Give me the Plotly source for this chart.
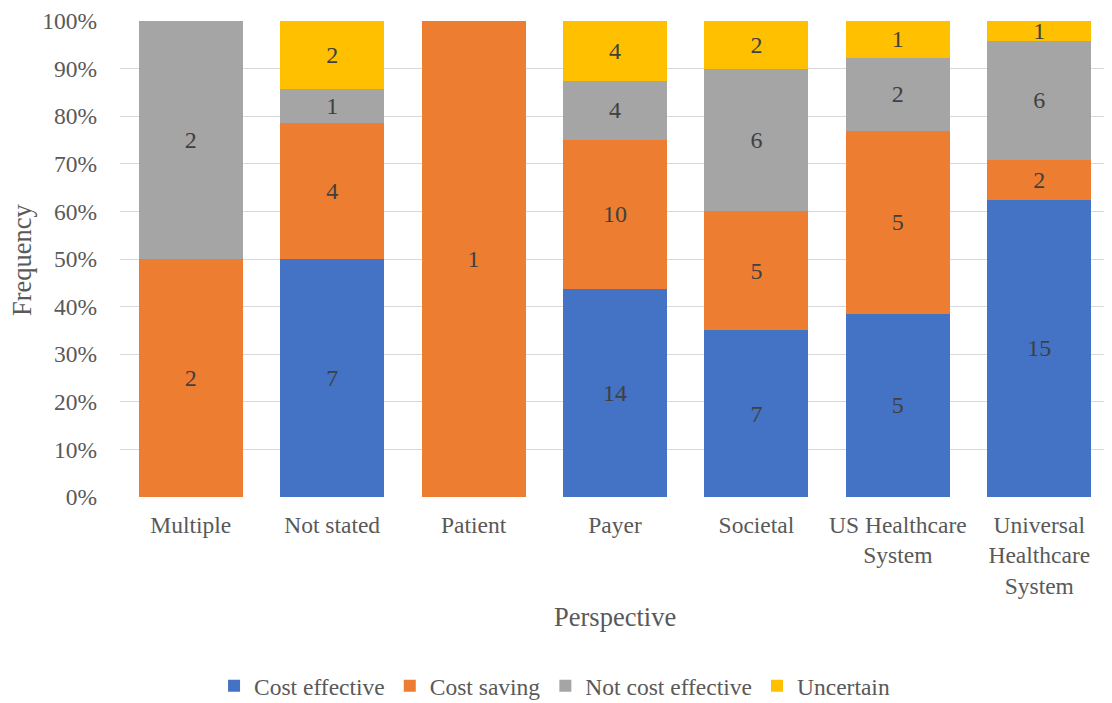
import plotly.graph_objects as go

categories = ["Multiple", "Not stated", "Patient", "Payer", "Societal",
              "US Healthcare<br>System", "Universal<br>Healthcare<br>System"]
cost_effective = [0, 7, 0, 14, 7, 5, 15]
cost_saving = [2, 4, 1, 10, 5, 5, 2]
not_cost_effective = [2, 1, 0, 4, 6, 2, 6]
uncertain = [0, 2, 0, 4, 2, 1, 1]

series = [
    ("Cost effective", cost_effective, "#4472C4"),
    ("Cost saving", cost_saving, "#ED7D31"),
    ("Not cost effective", not_cost_effective, "#A5A5A5"),
    ("Uncertain", uncertain, "#FFC000"),
]

font_family = "Liberation Serif, Times New Roman, serif"
fig = go.Figure()
for name, vals, color in series:
    fig.add_trace(go.Bar(
        name=name, x=categories, y=vals, marker_color=color,
        marker_line_width=0,
        text=[str(v) if v else "" for v in vals],
        textposition="inside", insidetextanchor="middle",
        textangle=0, constraintext="none",
        textfont=dict(family=font_family, size=24, color="#404040"),
        hoverinfo="name+y",
    ))

fig.update_layout(
    barmode="stack", barnorm="percent", bargap=0.264,
    width=1112, height=703,
    paper_bgcolor="white", plot_bgcolor="white",
    margin=dict(l=112, r=10, t=13, b=214, autoexpand=False),
    font=dict(family=font_family, size=24, color="#595959"),
    legend=dict(orientation="h", xref="container", yref="container",
                x=0.4915, xanchor="center", y=0.0356, yanchor="middle",
                font=dict(size=23.5, color="#595959"), traceorder="normal",
                itemwidth=30),
    xaxis=dict(tickfont=dict(size=23.5, color="#595959"), showline=False,
               ticklabelstandoff=11, automargin=False, ticklabeloverflow="allow"),
    yaxis=dict(range=[0, 100], dtick=10, ticksuffix="%",
               tickfont=dict(size=23.5, color="#595959"), ticklabelstandoff=22,
               showgrid=True, gridcolor="#D9D9D9", gridwidth=1, zeroline=False,
               automargin=False, ticklabeloverflow="allow"),
    annotations=[
        dict(text="Perspective", xref="paper", yref="paper", x=0.5, y=-0.252,
             xanchor="center", yanchor="middle", showarrow=False,
             font=dict(size=26.5, color="#595959")),
        dict(text="Frequency", xref="paper", yref="paper", x=-0.099, y=0.5,
             xanchor="center", yanchor="middle", showarrow=False, textangle=-90,
             font=dict(size=26.5, color="#595959")),
    ],
)

fig.write_html("out.html")
